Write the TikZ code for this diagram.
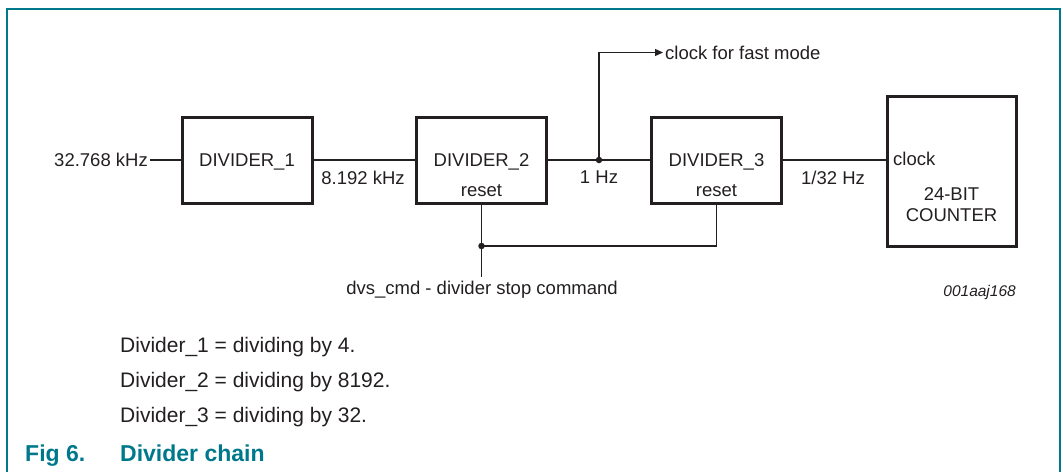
\documentclass[tikz,border=0pt]{standalone}
\usepackage{fontspec}
\setmainfont{Liberation Sans}
\usetikzlibrary{arrows.meta}
\definecolor{nxpteal}{RGB}{0,120,140}
\definecolor{inkgray}{RGB}{35,31,32}

\begin{document}
\begin{tikzpicture}[x=1pt,y=-1pt,
  font=\fontsize{18.5}{20}\selectfont, color=inkgray,
  box/.style={draw, line width=3pt, minimum width=130pt, minimum height=86pt,
    text height=13pt, text depth=0pt, inner sep=0pt},
  lbl/.style={inner sep=0pt, text height=13pt, text depth=0pt},
  wire/.style={line width=1.3pt},
  dot/.style={circle, fill=inkgray, inner sep=0pt, minimum size=6.5pt},
  note/.style={anchor=base west, inner sep=0pt, font=\fontsize{21}{24}\selectfont}]
\useasboundingbox (0,0) rectangle (1063,472);
% frame
\draw[nxpteal, line width=2pt] (7,472) -- (7,9) -- (1060,9) -- (1060,472);

% blocks
\node[box] (div1) at (247,160) {DIVIDER\_1};
\node[box] (div2) at (481.5,160) {DIVIDER\_2};
\node[box] (div3) at (716.5,160) {DIVIDER\_3};
\node[box, minimum width=129pt, minimum height=150pt] (cnt) at (951.5,171) {};
\node[lbl] (div2rst) at (481.5,190) {reset};
\node[lbl] (div3rst) at (716.5,190) {reset};
\node[lbl, anchor=west] (cntclk) at (893,158.5) {clock};
\node[lbl] (cnt24) at (951.5,193.5) {24-BIT};
\node[lbl] (cntname) at (951.5,215) {COUNTER};

% signal labels
\node[lbl, anchor=east] (fin) at (148,160) {32.768 kHz};
\node[lbl] (f1) at (363,178) {8.192 kHz};
\node[lbl] (f2) at (599,177) {1 Hz};
\node[lbl] (f3) at (833,178) {1/32 Hz};
\node[lbl, anchor=west] (fast) at (665,52.5) {clock for fast mode};
\node[lbl] (cmd) at (482,287.5) {dvs\_cmd - divider stop command};
\node[anchor=base east, inner sep=0pt, font=\fontsize{15.5}{18}\selectfont\itshape] (code) at (1016,296) {001aaj168};

% connections
\coordinate (tap) at (599,160);
\coordinate (rst) at (481.5,246);
\coordinate (cmdtop) at (481.5,277);
\draw[wire] (fin.east) ++(2,0) -- (div1.west);
\draw[wire] (div1.east) -- (div2.west);
\draw[wire] (div2.east) -- (div3.west);
\draw[wire] (div3.east) -- (div3.east -| cnt.west);
\draw[wire, -{Triangle[length=8pt,width=7pt]}] (tap) |- ([xshift=-2pt]fast.west);
\draw[wire] (div2.south) -- (cmdtop);
\draw[wire] (div3.south) |- (rst);
\node[dot] at (tap) {};
\node[dot] at (rst) {};

% notes
\node[note] (n1) at (120,352.5) {Divider\_1 = dividing by 4.};
\node[note] (n2) at (120,387.5) {Divider\_2 = dividing by 8192.};
\node[note] (n3) at (120,422.5) {Divider\_3 = dividing by 32.};
\node[note, text=nxpteal, font=\fontsize{23}{26}\selectfont\bfseries] (fig) at (25,461) {Fig 6.};
\node[note, text=nxpteal, font=\fontsize{23}{26}\selectfont\bfseries] (title) at (120,461) {Divider chain};
\end{tikzpicture}
\end{document}
